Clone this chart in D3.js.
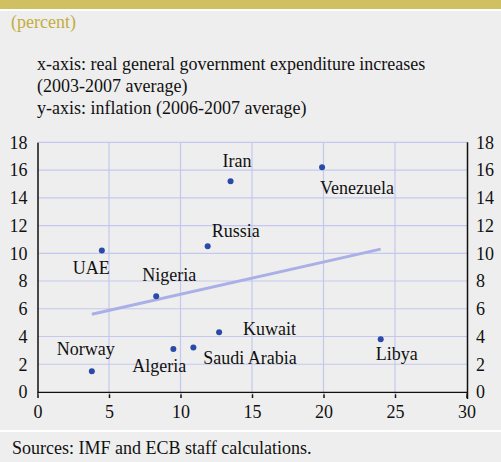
<!DOCTYPE html>
<html>
<head>
  <meta charset="utf-8">
  <title>Expenditure vs inflation</title>
  <style>
    body { margin: 0; background: #fff; }
    svg text { font-family: "Liberation Serif", "Times New Roman", serif; }
  </style>
</head>
<body>
<div id="chart"></div>
<script src="https://d3js.org/d3.v7.min.js"></script>
<script>
  // data
  const countries = ["Iran", "Venezuela", "Russia", "UAE", "Nigeria", "Kuwait", "Libya", "Norway", "Algeria", "Saudi Arabia"];
  const expenditure = [13.5, 19.9, 11.9, 4.5, 8.3, 12.7, 24.0, 3.8, 9.5, 10.9];
  const inflation = [15.2, 16.2, 10.5, 10.2, 6.9, 4.3, 3.8, 1.5, 3.1, 3.2];
  const trendX = [3.8, 24.0];
  const trendY = [5.6, 10.3];
  const xTicks = [0, 5, 10, 15, 20, 25, 30];
  const yTicks = [0, 2, 4, 6, 8, 10, 12, 14, 16, 18];

  // label placement (pixel offsets from each dot, same order as countries)
  const labelDx = [-8, -2, 4, -29, -14, 24, -5, -35, -41, 10];
  const labelDy = [-14, 27, -9, 23, -15, 3, 21, -16, 23, 16];

  const W = 501, H = 462;
  const GOLD = "#cfc062";
  const GRID = "#c4c8ee";
  const DOT = "#2a4aa8";
  const FONT = 18;

  const svg = d3.select("#chart").append("svg")
    .attr("width", W).attr("height", H);

  // panel backgrounds
  svg.append("rect").attr("x", 0).attr("y", 0).attr("width", W).attr("height", 9).attr("fill", GOLD);
  svg.append("rect").attr("x", 0).attr("y", 11).attr("width", W).attr("height", 419).attr("fill", "#eeeeee");
  svg.append("rect").attr("x", 0).attr("y", 432).attr("width", W).attr("height", 30).attr("fill", "#eeeeee");

  svg.append("text").text("(percent)")
    .attr("x", 11).attr("y", 28).attr("fill", "#c4ad3c").style("font-size", FONT + "px");

  const notes = ["x-axis: real general government expenditure increases",
    "(2003-2007 average)", "y-axis: inflation (2006-2007 average)"];
  svg.selectAll("text.note").data(notes).enter().append("text")
    .attr("class", "note")
    .attr("x", 37).attr("y", function (d, i) { return 70 + i * 22; })
    .attr("fill", "#111").style("font-size", FONT + "px")
    .text(function (d) { return d; });

  svg.append("text").text("Sources: IMF and ECB staff calculations.")
    .attr("x", 12).attr("y", 454).attr("fill", "#111").style("font-size", FONT + "px");

  // scales
  const plotLeft = 37.5, plotRight = 467.5, plotTop = 142.3, plotBottom = 392;
  const x = d3.scaleLinear().domain([0, 30]).range([plotLeft, plotRight - 1]);
  const y = d3.scaleLinear().domain([0, 18]).range([plotBottom, plotTop]);

  // grid
  const grid = svg.append("g");
  grid.selectAll("line.h").data(yTicks.slice(1)).enter().append("line")
    .attr("x1", plotLeft).attr("x2", plotRight)
    .attr("y1", function (d) { return y(d); }).attr("y2", function (d) { return y(d); })
    .attr("stroke", GRID).attr("stroke-width", 1.2);
  grid.selectAll("line.v").data(xTicks.slice(1, -1)).enter().append("line")
    .attr("x1", function (d) { return x(d); }).attr("x2", function (d) { return x(d); })
    .attr("y1", plotTop).attr("y2", plotBottom)
    .attr("stroke", GRID).attr("stroke-width", 1.2);

  // trend line
  svg.append("path")
    .datum(d3.zip(trendX, trendY))
    .attr("d", d3.line().x(function (d) { return x(d[0]); }).y(function (d) { return y(d[1]); }))
    .attr("fill", "none").attr("stroke", "#aab0e6").attr("stroke-width", 3);

  // axes
  const xAxis = svg.append("g")
    .attr("transform", "translate(0," + plotBottom + ")")
    .call(d3.axisBottom(x).tickValues(xTicks).tickSize(6).tickSizeOuter(0).tickPadding(7));
  const yLeft = svg.append("g")
    .attr("transform", "translate(" + plotLeft + ",0)")
    .call(d3.axisLeft(y).tickValues(yTicks).tickSize(0).tickPadding(10));
  const yRight = svg.append("g")
    .attr("transform", "translate(" + plotRight + ",0)")
    .call(d3.axisRight(y).tickValues(yTicks).tickSize(0).tickPadding(8.5));

  [xAxis, yLeft, yRight].forEach(function (g) {
    g.select(".domain").attr("stroke", "#111").attr("stroke-width", 1.5);
    g.selectAll(".tick line").attr("stroke", "#111").attr("stroke-width", 1.5);
    g.selectAll(".tick text").attr("fill", "#111")
      .style("font-size", FONT + "px").style("font-family", "Liberation Serif, serif");
  });
  yRight.select(".domain").attr("d", "M0," + plotTop + "V" + (plotBottom + 7));

  // thin white highlight under the x axis
  svg.append("line")
    .attr("x1", plotLeft + 1).attr("x2", plotRight - 1)
    .attr("y1", plotBottom + 1.8).attr("y2", plotBottom + 1.8)
    .attr("stroke", "#ffffff").attr("stroke-width", 1);

  // dots and labels
  const pts = svg.append("g");
  pts.selectAll("circle").data(countries).enter().append("circle")
    .attr("cx", function (d, i) { return x(expenditure[i]); })
    .attr("cy", function (d, i) { return y(inflation[i]); })
    .attr("r", 3).attr("fill", DOT);
  pts.selectAll("text").data(countries).enter().append("text")
    .attr("x", function (d, i) { return x(expenditure[i]) + labelDx[i]; })
    .attr("y", function (d, i) { return y(inflation[i]) + labelDy[i]; })
    .attr("fill", "#111").style("font-size", FONT + "px")
    .text(function (d) { return d; });
</script>
</body>
</html>
